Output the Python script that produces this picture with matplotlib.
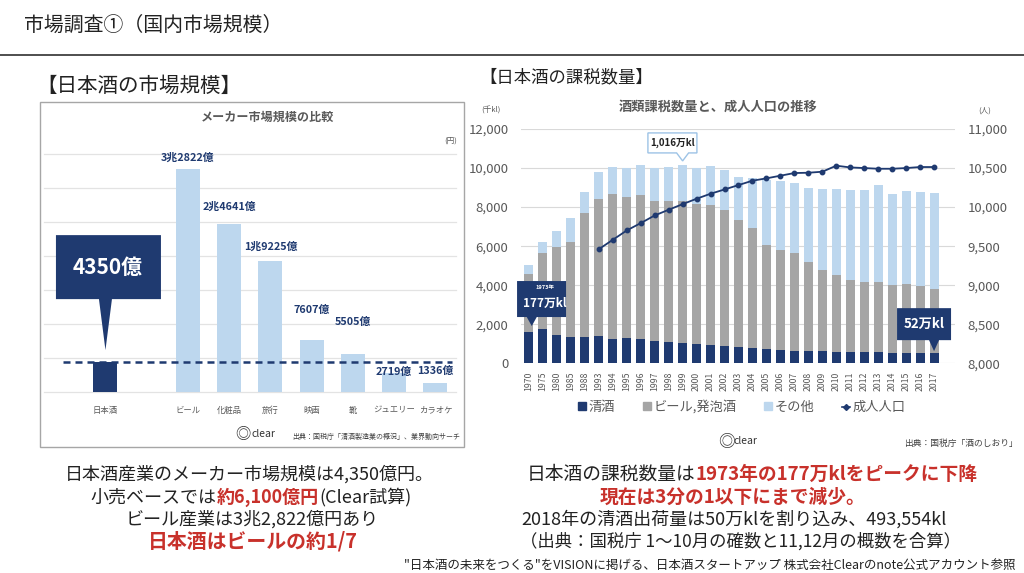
import numpy as np
import matplotlib
matplotlib.use("Agg")
import matplotlib.pyplot as plt
import matplotlib.transforms as mtransforms
from matplotlib.patches import Polygon, Rectangle, Patch
from matplotlib.lines import Line2D
from matplotlib.offsetbox import TextArea, HPacker, AnnotationBbox

plt.rcParams['font.family'] = ['Noto Sans CJK JP', 'DejaVu Sans']

W, H = 1024, 573
NAVY = '#1f3a70'
LIGHT = '#bdd7ee'
GRAY = '#a5a5a5'
TXT = '#595959'
RED = '#c8312b'

# 左: メーカー市場規模 (億円)
cats = ['日本酒', 'ビール', '化粧品', '旅行', '映画', '靴', 'ジュエリー', 'カラオケ']
market = [4350, 32822, 24641, 19225, 7607, 5505, 2719, 1336]
market_labels = ['4350億', '3兆2822億', '2兆4641億', '1兆9225億', '7607億', '5505億', '2719億', '1336億']
cat_pos = [0, 2, 3, 4, 5, 6, 7, 8]

# 右: 酒類課税数量 (千kl) と成人人口
years = ['1970', '1975', '1980', '1985', '1988', '1993', '1994', '1995', '1996', '1997',
         '1998', '1999', '2000', '2001', '2002', '2003', '2004', '2005', '2006', '2007',
         '2008', '2009', '2010', '2011', '2012', '2013', '2014', '2015', '2016', '2017']
sake = [1590, 1740, 1450, 1330, 1330, 1400, 1230, 1280, 1230, 1160, 1090, 1060, 990, 920, 890,
        820, 770, 720, 680, 650, 650, 620, 580, 580, 580, 580, 550, 550, 530, 520]
beer = [2990, 3920, 4530, 4890, 6350, 7010, 7450, 7230, 7390, 7160, 7230, 7260, 7160, 7200, 6960,
        6500, 6140, 5350, 5130, 5010, 4560, 4150, 3920, 3710, 3590, 3590, 3480, 3520, 3440, 3290]
other = [460, 540, 810, 1230, 1110, 1370, 1390, 1490, 1520, 1680, 1750, 1840, 1850, 1980, 2060,
         2220, 2580, 3330, 3510, 3550, 3780, 4150, 4420, 4600, 4700, 4960, 4650, 4750, 4780, 4890]
adults = [np.nan, np.nan, np.nan, np.nan, np.nan, 9461, 9581, 9701, 9795, 9893, 9966, 10038,
          10107, 10171, 10226, 10282, 10338, 10368, 10402, 10436, 10440, 10453, 10530, 10508,
          10500, 10491, 10491, 10500, 10513, 10513]


def fx(x):
    return x / W


def fy(y):
    return 1 - y / H


def callout(ax, x, y, box, base, tip, fc, ec=None, lw=0, z=5):
    # box/base/tip: ピクセル単位 (点 x,y からの相対位置)
    tr = mtransforms.IdentityTransform() + mtransforms.ScaledTranslation(x, y, ax.transData)
    l, r, b, t = box
    verts = [(l, b), (base[0], b), (0, tip), (base[1], b), (r, b), (r, t), (l, t)]
    ax.add_patch(Polygon(verts, closed=True, transform=tr, fc=fc, ec=ec if ec else fc,
                         lw=lw, zorder=z, clip_on=False))
    return tr


fig = plt.figure(figsize=(W / 100, H / 100), dpi=100)

# ヘッダー
fig.text(fx(24), fy(25), '市場調査①（国内市場規模）', fontsize=14.3, color='#222222', va='center')
fig.add_artist(Line2D([0, 1], [fy(55), fy(55)], transform=fig.transFigure, color='#404040', lw=1.3))
fig.text(fx(36), fy(86), '【日本酒の市場規模】', fontsize=14.8, color='#222222', va='center')
fig.text(fx(479), fy(77), '【日本酒の課税数量】', fontsize=12.5, color='#222222', va='center')

# ---- 左のグラフ ----
fig.add_artist(Rectangle((fx(40), fy(447)), (464 - 40) / W, (447 - 102) / H,
                         transform=fig.transFigure, fill=False, ec='#a6a6a6', lw=1))
fig.text(fx(267), fy(117), 'メーカー市場規模の比較', fontsize=8.7, weight='bold', color=TXT,
         ha='center', va='center')
fig.text(fx(451), fy(142), '(円)', fontsize=5.5, color=TXT, ha='center', va='center')

axL = fig.add_axes([fx(44), fy(391.7), (456 - 44) / W, (391.7 - 153.7) / H])
colors = [NAVY] + [LIGHT] * (len(cats) - 1)
axL.bar(cat_pos, market, width=0.58, color=colors, zorder=2)
axL.set_xlim(-1.49, 8.5)
axL.set_ylim(0, 35000)
for v in range(0, 35001, 5000):
    axL.axhline(v, color='#e3e3e3', lw=0.9, zorder=1, clip_on=False)
for s in axL.spines.values():
    s.set_visible(False)
axL.set_yticks([])
axL.set_xticks(cat_pos)
axL.set_xticklabels(cats, fontsize=6, color=TXT)
axL.tick_params(axis='x', length=0, pad=10)
axL.hlines(market[0], cat_pos[0] - 1.03, cat_pos[-1] + 0.4, color=NAVY, lw=1.8,
           linestyle=(0, (2.8, 2.0)), zorder=3)

label_dy = [10.5, 17, 14, 30, 32, 1, 12]
for p, v, lab, dy in zip(cat_pos[1:], market[1:], market_labels[1:], label_dy):
    axL.annotate(lab, (p, v), xytext=(0, dy), textcoords='offset pixels', ha='center',
                 va='center', fontsize=7.8, weight='bold', color=NAVY, zorder=4)

tr = callout(axL, cat_pos[0], market[0], (-49.5, 55.5, 63, 127), (-6.5, 6.5), 12, NAVY)
axL.text(2, 95, market_labels[0], transform=tr, fontsize=15, weight='bold', color='white',
         ha='center', va='center', zorder=6)

fig.text(fx(243), fy(435), '◎', fontsize=11, color='#333333', ha='center', va='center')
fig.text(fx(251), fy(434), 'clear', fontsize=7.5, color='#333333', va='center')
fig.text(fx(460), fy(437), '出典：国税庁「清酒製造業の概況」、業界動向サーチ', fontsize=5,
         color='#404040', ha='right', va='center')

# ---- 右のグラフ ----
fig.text(fx(718), fy(107), '酒類課税数量と、成人人口の推移', fontsize=9.5, weight='bold',
         color=TXT, ha='center', va='center')
fig.text(fx(491), fy(111), '(千kl)', fontsize=5.5, color=TXT, ha='center', va='center')
fig.text(fx(985), fy(111), '(人)', fontsize=5.5, color=TXT, ha='center', va='center')

axR = fig.add_axes([fx(521), fy(363.3), 434 / W, (363.3 - 129) / H])
x = np.arange(len(years))
axR.bar(x, sake, width=0.64, color=NAVY, zorder=2)
bottom2 = np.array(sake)
axR.bar(x, beer, width=0.64, bottom=bottom2, color=GRAY, zorder=2)
bottom3 = bottom2 + np.array(beer)
axR.bar(x, other, width=0.64, bottom=bottom3, color=LIGHT, zorder=2)
axR.set_xlim(-0.57, 30.5)
axR.set_ylim(0, 12000)
axR.set_yticks(range(0, 12001, 2000))
axR.set_yticklabels([f'{v:,}' for v in range(0, 12001, 2000)])
axR.yaxis.grid(True, color='#d9d9d9', lw=0.8, zorder=0)
axR.set_axisbelow(True)
axR.set_xticks(x)
axR.set_xticklabels(years, rotation=90, fontsize=6.3, color=TXT)
axR.tick_params(axis='x', length=0, pad=6)
axR.tick_params(axis='y', length=0, pad=9, labelsize=9.5, labelcolor=TXT)

ax2 = axR.twinx()
ax2.plot(x, adults, color=NAVY, lw=1.3, marker='o', markersize=3.2, zorder=4)
ax2.set_ylim(8000, 11000)
ax2.set_yticks(range(8000, 11001, 500))
ax2.set_yticklabels([f'{v:,}' for v in range(8000, 11001, 500)])
ax2.tick_params(axis='y', length=0, pad=9, labelsize=9.5, labelcolor=TXT)
for a in (axR, ax2):
    for s in a.spines.values():
        s.set_visible(False)

# 吹き出し
tr = callout(ax2, 0.2, 8000 + (1770 / 12000) * 3000, (-14.7, 34.3, 11.7, 47.7), (-5, 5), 2.7, NAVY, z=6)
ax2.text(13.5, 41.5, '1973年', transform=tr, fontsize=4, weight='bold', color='white',
         ha='center', va='center', zorder=7)
ax2.text(13.5, 25.5, '177万kl', transform=tr, fontsize=8.5, weight='bold', color='white',
         ha='center', va='center', zorder=7)

tr = callout(ax2, 29, 8000 + (sake[-1] / 12000) * 3000, (-37, 17, 13, 45), (-5, 5), 2, NAVY, z=6)
ax2.text(-10, 29, '52万kl', transform=tr, fontsize=9.5, weight='bold', color='white',
         ha='center', va='center', zorder=7)

peak = 11
tot_peak = sake[peak] + beer[peak] + other[peak]
tr = callout(ax2, peak, 8000 + (tot_peak / 12000) * 3000, (-34.7, 14.3, 12, 32), (-6, 6), 4,
             'white', ec='#9dc3e6', lw=1, z=6)
ax2.text(-10, 22, '1,016万kl', transform=tr, fontsize=7, weight='bold', color='#222222',
         ha='center', va='center', zorder=7)

handles = [Patch(color=NAVY), Patch(color=GRAY), Patch(color=LIGHT),
           Line2D([], [], color=NAVY, lw=1.2, marker='D', markersize=3)]
fig.legend(handles, ['清酒', 'ビール,発泡酒', 'その他', '成人人口'], loc='center',
           bbox_to_anchor=(fx(742), fy(407)), ncol=4, frameon=False, fontsize=9.5,
           handlelength=0.6, handleheight=0.6, handletextpad=0.2, columnspacing=2.1,
           labelcolor=TXT)

fig.text(fx(726), fy(442), '◎', fontsize=12, color='#333333', ha='center', va='center')
fig.text(fx(734), fy(441), 'clear', fontsize=7.5, color='#333333', va='center')
fig.text(fx(1018), fy(443), '出典：国税庁「酒のしおり」', fontsize=6.3, color='#404040',
         ha='right', va='center')


# ---- 下の説明文 ----
def text_line(parts, cx, cy):
    areas = []
    for s, col, bold, size in parts:
        areas.append(TextArea(s, textprops=dict(color=col, fontsize=size,
                                                weight='bold' if bold else 'normal')))
    pack = HPacker(children=areas, pad=0, sep=0, align='baseline')
    ab = AnnotationBbox(pack, (fx(cx), fy(cy)), xycoords='figure fraction', frameon=False,
                        box_alignment=(0.5, 0.5), pad=0)
    fig.add_artist(ab)


N = '#222222'
text_line([('日本酒産業のメーカー市場規模は4,350億円。', N, False, 13)], 249, 474)
text_line([('小売ベースでは', N, False, 13), ('約6,100億円', RED, True, 13),
           ('(Clear試算)', N, False, 13)], 251, 497)
text_line([('ビール産業は3兆2,822億円あり', N, False, 13)], 252, 519)
text_line([('日本酒はビールの約1/7', RED, True, 14.3)], 253, 541)

text_line([('日本酒の課税数量は', N, False, 13.5), ('1973年の177万klをピークに下降', RED, True, 13.5)],
          752, 474)
text_line([('現在は3分の1以下にまで減少。', RED, True, 13.5)], 733, 497)
text_line([('2018年の清酒出荷量は50万klを割り込み、493,554kl', N, False, 13)], 734, 519)
text_line([('（出典：国税庁 1〜10月の確数と11,12月の概数を合算）', N, False, 12.5)], 741, 541)

fig.text(fx(1016), fy(565), '"日本酒の未来をつくる"をVISIONに掲げる、日本酒スタートアップ 株式会社Clearのnote公式アカウント参照',
         fontsize=9, color='#222222', ha='right', va='center')

fig.savefig('out.png', dpi=100)
